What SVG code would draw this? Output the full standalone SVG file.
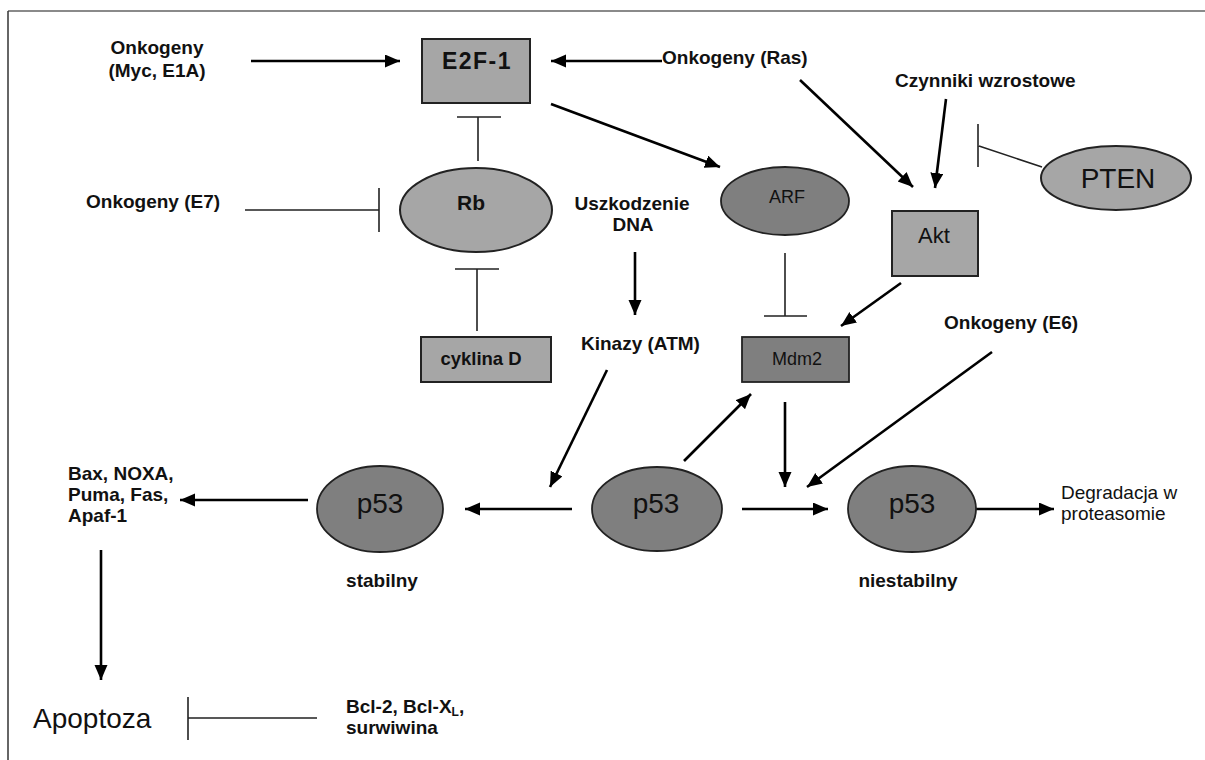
<svg xmlns="http://www.w3.org/2000/svg" width="1205" height="760" viewBox="0 0 1205 760">
<style>
.t{font-family:"Liberation Sans",Arial,sans-serif;font-size:19px;font-weight:bold;fill:#111}
.r{font-weight:normal}
.m{text-anchor:middle}
.lt{fill:#a6a6a6;stroke:#222;stroke-width:2}
.dk{fill:#7f7f7f;stroke:#222;stroke-width:1.8}
.arr{stroke:#000;stroke-width:2.6;fill:none;marker-end:url(#ah)}
.inh{stroke:#222;stroke-width:1.6;fill:none}
</style>
<defs>
<marker id="ah" markerUnits="userSpaceOnUse" markerWidth="16" markerHeight="14" refX="15" refY="6.5" orient="auto"><path d="M0,0 L15,6.5 L0,13 z" fill="#000"/></marker>
</defs>
<rect width="1205" height="760" fill="#fff"/>
<g id="frame">
<line x1="8" y1="11" x2="1205" y2="11" stroke="#8a8a8a" stroke-width="2"/>
<line x1="8" y1="11" x2="8" y2="760" stroke="#333" stroke-width="1.5"/>
</g>
<g id="connectors">
<line class="arr" x1="251" y1="61" x2="400" y2="61"/>
<line class="arr" x1="662" y1="61" x2="551" y2="61"/>
<line class="arr" x1="551" y1="104" x2="720" y2="167"/>
<line class="arr" x1="800" y1="80" x2="913" y2="187"/>
<line class="arr" x1="946" y1="99" x2="935" y2="188"/>
<path class="inh" d="M1042,167 L979,146 M978,124 V167"/>
<path class="inh" d="M478,161 V117 M457,117 H501"/>
<path class="inh" d="M245,210 H379 M379,188 V232"/>
<path class="inh" d="M477,331 V269 M455,269 H499"/>
<line class="arr" x1="635" y1="252" x2="635" y2="315"/>
<path class="inh" d="M785,253 V316 M764,316 H807"/>
<line class="arr" x1="901" y1="283" x2="841" y2="326"/>
<line class="arr" x1="607" y1="370" x2="550" y2="487"/>
<line class="arr" x1="684" y1="461" x2="751" y2="394"/>
<line class="arr" x1="785" y1="402" x2="785" y2="487"/>
<line class="arr" x1="992" y1="352" x2="807" y2="487"/>
<line class="arr" x1="572" y1="509" x2="465" y2="509"/>
<line class="arr" x1="308" y1="500" x2="180" y2="500"/>
<line class="arr" x1="742" y1="509" x2="828" y2="509"/>
<line class="arr" x1="976" y1="509" x2="1054" y2="509"/>
<line class="arr" x1="101" y1="550" x2="101" y2="680"/>
<path class="inh" d="M317,718 H188 M188,697 V740"/>
</g>
<g id="e2f1"><rect class="lt" x="422" y="39" width="108" height="64"/><text class="t m" x="477" y="69" style="font-size:23px;letter-spacing:1.5px">E2F-1</text></g>
<g id="rb"><ellipse class="lt" cx="476" cy="210" rx="76" ry="42"/><text class="t m" x="471" y="210" style="font-size:21px">Rb</text></g>
<g id="cyklinaD"><rect class="lt" x="421" y="337" width="130" height="45"/><text class="t m" x="481" y="365" style="font-size:18.5px">cyklina D</text></g>
<g id="arf"><ellipse class="dk" cx="785" cy="201" rx="64" ry="34"/><text class="t r m" x="787" y="203" style="font-size:18px">ARF</text></g>
<g id="akt"><rect class="lt" x="892" y="211" width="86" height="65"/><text class="t r m" x="934" y="243" style="font-size:22px">Akt</text></g>
<g id="pten"><ellipse class="lt" cx="1116" cy="178" rx="75" ry="32"/><text class="t r m" x="1118" y="188" style="font-size:28px">PTEN</text></g>
<g id="mdm2"><rect class="dk" x="742" y="337" width="107" height="45"/><text class="t r m" x="797" y="365" style="font-size:18px">Mdm2</text></g>
<g id="p53stable"><ellipse class="dk" cx="380" cy="509" rx="63" ry="43"/><text class="t r m" x="380" y="513" style="font-size:28px">p53</text></g>
<g id="p53mid"><ellipse class="dk" cx="657" cy="509" rx="65" ry="42"/><text class="t r m" x="656" y="513" style="font-size:28px">p53</text></g>
<g id="p53unstable"><ellipse class="dk" cx="912" cy="509" rx="64" ry="43"/><text class="t r m" x="912" y="513" style="font-size:28px">p53</text></g>
<g id="labels">
<text class="t m" x="157" y="54">Onkogeny</text>
<text class="t m" x="157" y="77">(Myc, E1A)</text>
<text class="t" x="662" y="64">Onkogeny (Ras)</text>
<text class="t" x="895" y="87">Czynniki wzrostowe</text>
<text class="t" x="86" y="208">Onkogeny (E7)</text>
<text class="t m" x="632" y="210">Uszkodzenie</text>
<text class="t m" x="633" y="231">DNA</text>
<text class="t" x="581" y="350">Kinazy (ATM)</text>
<text class="t" x="944" y="329">Onkogeny (E6)</text>
<text class="t" x="68" y="480">Bax, NOXA,</text>
<text class="t" x="68" y="501">Puma, Fas,</text>
<text class="t" x="68" y="522">Apaf-1</text>
<text class="t m" x="382" y="587">stabilny</text>
<text class="t m" x="908" y="587">niestabilny</text>
<text class="t r" x="1061" y="499">Degradacja w</text>
<text class="t r" x="1061" y="520">proteasomie</text>
<text class="t r" x="33" y="728" style="font-size:28px">Apoptoza</text>
<text class="t" x="346" y="713">Bcl-2, Bcl-X<tspan style="font-size:12px" dy="3">L</tspan><tspan dy="-3">,</tspan></text>
<text class="t" x="346" y="734">surwiwina</text>
</g>
</svg>
